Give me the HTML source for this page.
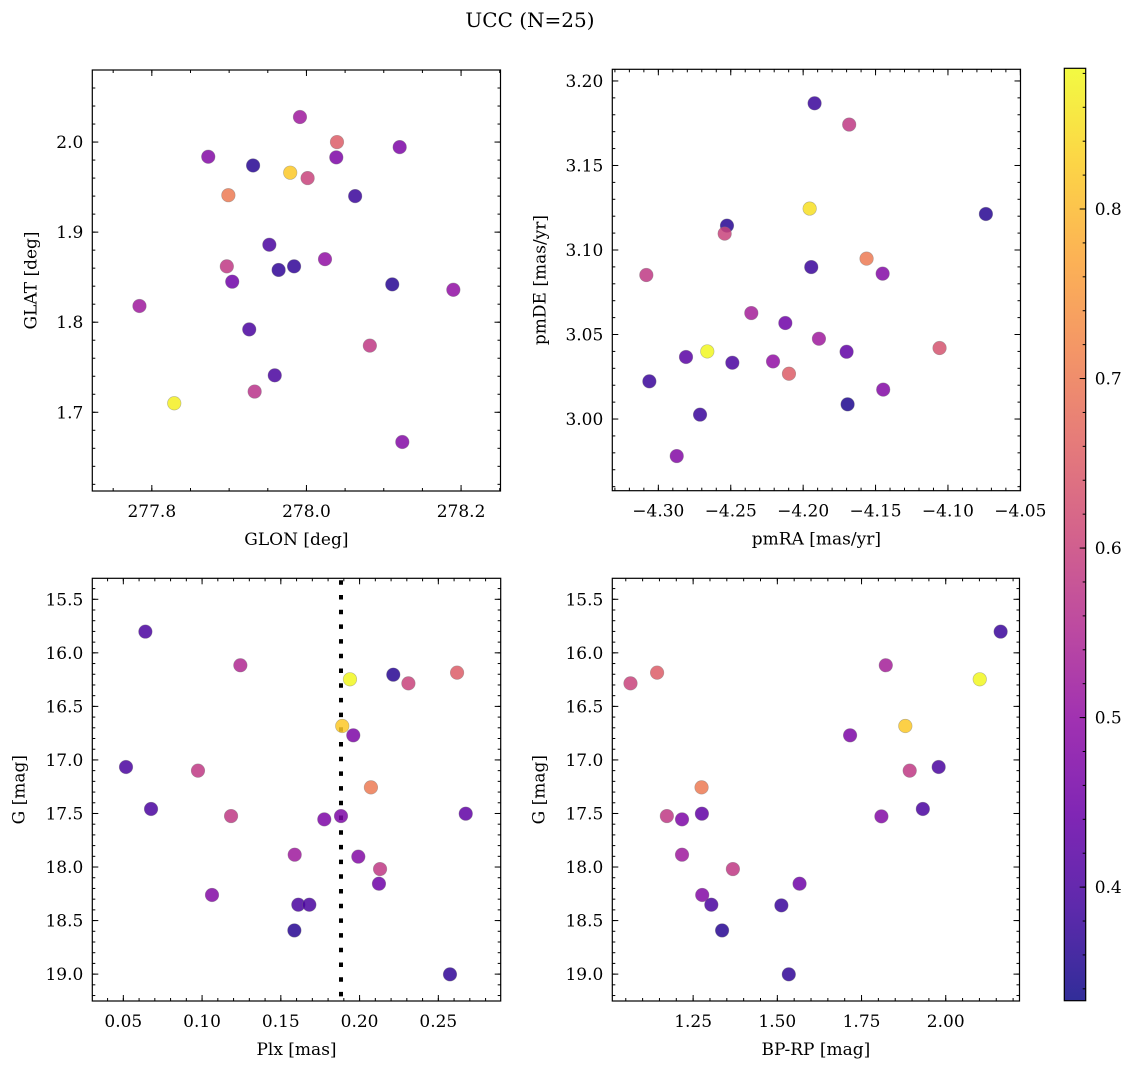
<!DOCTYPE html>
<html><head><meta charset="utf-8"><style>
html,body{margin:0;padding:0;background:#fff;}
svg{display:block;font-family:"DejaVu Serif","Liberation Serif",serif;}
</style></head><body>
<svg id="fig" width="1136" height="1068" viewBox="0 0 1136 1068">
<text x="530" y="27" text-anchor="middle" font-size="20">UCC (N=25)</text>
</svg>
<script>
// ---- data ----
const glon = [277.9916,278.0395,277.873,277.931,277.979,278.0386,278.0015,278.1206,277.899,278.063,277.952,277.897,277.964,277.984,277.904,278.024,278.111,278.190,277.784,277.926,278.082,277.959,277.933,277.829,278.124];
const glat = [2.0278,2.000,1.9837,1.974,1.966,1.983,1.960,1.9944,1.941,1.940,1.886,1.862,1.858,1.862,1.845,1.870,1.842,1.836,1.818,1.792,1.774,1.741,1.723,1.710,1.667];
const probP1 = [0.52,0.65,0.48,0.36,0.82,0.47,0.60,0.47,0.70,0.38,0.40,0.58,0.37,0.37,0.45,0.50,0.36,0.50,0.52,0.40,0.58,0.40,0.57,0.87,0.48];

const pmra = [-4.1921,-4.1682,-4.1955,-4.0738,-4.2526,-4.2542,-4.1562,-4.1944,-4.1451,-4.3083,-4.2358,-4.2123,-4.1891,-4.1058,-4.1700,-4.2662,-4.2809,-4.2489,-4.2208,-4.2098,-4.3062,-4.1447,-4.1693,-4.2712,-4.2873];
const pmde = [3.1868,3.1742,3.1245,3.1213,3.1144,3.1097,3.0949,3.0899,3.0860,3.0852,3.0627,3.0568,3.0475,3.0420,3.0398,3.0400,3.0367,3.0333,3.0341,3.0268,3.0223,3.0174,3.0087,3.0026,2.9781];
const probP2 = [0.38,0.58,0.85,0.36,0.36,0.60,0.70,0.38,0.48,0.58,0.53,0.45,0.52,0.63,0.43,0.88,0.42,0.40,0.50,0.65,0.38,0.48,0.35,0.38,0.48];

const plx = [0.0640,0.1243,0.1939,0.2214,0.2310,0.2619,0.1890,0.1960,0.0517,0.0974,0.2072,0.0676,0.1184,0.1776,0.1882,0.2674,0.1588,0.1992,0.2130,0.2123,0.1063,0.1611,0.1681,0.1586,0.2574];
const gmagP3 = [15.802,16.116,16.247,16.204,16.285,16.185,16.683,16.770,17.066,17.100,17.256,17.458,17.524,17.555,17.524,17.502,17.885,17.903,18.019,18.156,18.261,18.352,18.352,18.592,19.002];
const probP3 = [0.40,0.55,0.88,0.36,0.60,0.65,0.82,0.47,0.40,0.58,0.70,0.40,0.58,0.47,0.47,0.43,0.52,0.48,0.58,0.45,0.48,0.40,0.40,0.36,0.37];
const plxCut = [0.1882];

const bprp = [2.163,1.822,2.101,1.064,1.143,1.880,1.716,1.893,1.979,1.275,1.172,1.217,1.276,1.809,1.932,1.217,1.368,1.566,1.277,1.304,1.512,1.336,1.534];
const gmagP4 = [15.802,16.116,16.247,16.285,16.185,16.683,16.770,17.100,17.066,17.256,17.524,17.555,17.502,17.527,17.458,17.885,18.019,18.156,18.261,18.352,18.358,18.592,19.002];
const probP4 = [0.38,0.53,0.88,0.60,0.65,0.82,0.47,0.58,0.40,0.70,0.58,0.47,0.43,0.48,0.40,0.52,0.58,0.45,0.48,0.40,0.38,0.36,0.37];

const ticksP1x = ["277.8","278.0","278.2"];
const ticksP1y = ["1.7","1.8","1.9","2.0"];
const ticksP2x = ["-4.30","-4.25","-4.20","-4.15","-4.10","-4.05"];
const ticksP2y = ["3.00","3.05","3.10","3.15","3.20"];
const ticksP3x = ["0.05","0.10","0.15","0.20","0.25"];
const ticksGy = ["15.5","16.0","16.5","17.0","17.5","18.0","18.5","19.0"];
const ticksP4x = ["1.25","1.50","1.75","2.00"];
const ticksCbar = ["0.4","0.5","0.6","0.7","0.8"];
const cLim = [0.333, 0.883];

// ---- helpers ----
const NS="http://www.w3.org/2000/svg";
const svg=document.getElementById('fig');
const FS=17;
function mk(tag,attrs,parent){const e=document.createElementNS(NS,tag);for(const k in attrs)e.setAttribute(k,attrs[k]);(parent||svg).appendChild(e);return e;}
const plasma=[[13,8,135],[65,4,157],[106,0,168],[143,13,164],[177,42,144],[204,71,120],[225,100,98],[242,132,75],[252,166,54],[252,206,37],[240,249,33]];
function cmap(v){let t=(v-cLim[0])/(cLim[1]-cLim[0]);t=Math.max(0,Math.min(1,t));const f=t*10,i=Math.min(9,Math.floor(f)),r=f-i;const a=plasma[i],b=plasma[i+1];return `rgb(${a.map((x,k)=>Math.round(x+(b[k]-x)*r)).join(',')})`;}
function fmtMinus(s){return s.replace('-','\u2212');}

function panel(o){
  const g=mk('g',{});
  
  
  const L=o.box[0],T=o.box[1],R=o.box[2],B=o.box[3];
  const sx=v=>L+(v-o.xlim[0])/(o.xlim[1]-o.xlim[0])*(R-L);
  const sy=o.invertY? v=>T+(v-o.ylim[0])/(o.ylim[1]-o.ylim[0])*(B-T) : v=>B-(v-o.ylim[0])/(o.ylim[1]-o.ylim[0])*(B-T);
  const eps=1e-9;
  function ticks(lo,hi,step,fn){const s=Math.ceil(lo/step-eps);for(let k=s;k*step<=hi+eps;k++)fn(k*step);}
  const tg=mk('g',{stroke:'#000','stroke-width':1},g);
  
  
  ticks(o.xlim[0],o.xlim[1],o.xminor,v=>{const x=sx(v);mk('line',{x1:x,x2:x,y1:B,y2:B-3},tg);mk('line',{x1:x,x2:x,y1:T,y2:T+3},tg);});
  ticks(o.ylim[0],o.ylim[1],o.yminor,v=>{const y=sy(v);mk('line',{x1:L,x2:L+3,y1:y,y2:y},tg);mk('line',{x1:R,x2:R-3,y1:y,y2:y},tg);});
  o.xt.forEach(s=>{const x=sx(parseFloat(s));mk('line',{x1:x,x2:x,y1:B,y2:B-6},tg);mk('line',{x1:x,x2:x,y1:T,y2:T+6},tg);
    const t=mk('text',{x:x,y:B+26,'text-anchor':'middle','font-size':FS},g);t.textContent=fmtMinus(s);
    
    });
  o.yt.forEach(s=>{const y=sy(parseFloat(s));mk('line',{x1:L,x2:L+6,y1:y,y2:y},tg);mk('line',{x1:R,x2:R-6,y1:y,y2:y},tg);
    const t=mk('text',{x:L-9,y:y+6,'text-anchor':'end','font-size':FS},g);t.textContent=fmtMinus(s);
    
    });
  if(o.vline){o.vline.forEach(v=>{const x=sx(v);const l=mk('line',{x1:x,x2:x,y1:T+2,y2:B,stroke:'#000','stroke-width':4,'stroke-dasharray':'4.5 10.2'},g);
    
    });}
  const pg=mk('g',{},g);
  
  
  o.x.forEach((xv,i)=>{const c=mk('circle',{cx:sx(xv),cy:sy(o.y[i]),r:6.8,fill:cmap(o.c[i]),'fill-opacity':0.85,stroke:'#777','stroke-opacity':0.5,'stroke-width':0.6},pg);
    
    });
  const fr=mk('rect',{x:L,y:T,width:R-L,height:B-T,fill:'none',stroke:'#000','stroke-width':1.2},g);
  
  
  const xl=mk('text',{x:(L+R)/2,y:B+54,'text-anchor':'middle','font-size':FS},g);xl.textContent=o.xlabel;
  
  
  const yx=L-o.ylabOff, yy=(T+B)/2;
  const yl=mk('text',{x:yx,y:yy,'text-anchor':'middle','font-size':FS,transform:`rotate(-90 ${yx} ${yy})`},g);yl.textContent=o.ylabel;
  
  
}

panel({name:'glon-glat-panel',box:[92.3,70,500.5,491],xlim:[277.723,278.251],ylim:[1.6126,2.080],xminor:0.05,yminor:0.02,
  xt:ticksP1x,yt:ticksP1y,x:glon,y:glat,c:probP1,xlabel:'GLON [deg]',ylabel:'GLAT [deg]',ylabOff:56});
panel({name:'propermotion-panel',box:[612.3,69.3,1020.5,490.7],xlim:[-4.3318,-4.0499],ylim:[2.9576,3.2069],xminor:0.01,yminor:0.01,
  xt:ticksP2x,yt:ticksP2y,x:pmra,y:pmde,c:probP2,xlabel:'pmRA [mas/yr]',ylabel:'pmDE [mas/yr]',ylabOff:67});
panel({name:'plx-g-panel',box:[92.3,578.3,500.7,1001],xlim:[0.0303,0.2896],ylim:[15.304,19.251],invertY:true,xminor:0.01,yminor:0.1,
  xt:ticksP3x,yt:ticksGy,x:plx,y:gmagP3,c:probP3,vline:plxCut,xlabel:'Plx [mas]',ylabel:'G [mag]',ylabOff:68});
panel({name:'cmd-panel',box:[612.3,578.3,1019.5,1001],xlim:[1.010,2.219],ylim:[15.304,19.251],invertY:true,xminor:0.05,yminor:0.1,
  xt:ticksP4x,yt:ticksGy,x:bprp,y:gmagP4,c:probP4,xlabel:'BP-RP [mag]',ylabel:'G [mag]',ylabOff:68});

// ---- colorbar ----
(function(){
  const L=1064.3,R=1085.7,T=68.3,B=1000.7;
  const cg=mk('g',{});
  
  
  const defs=mk('defs',{},cg);
  const lg=mk('linearGradient',{id:'pl',x1:0,y1:1,x2:0,y2:0},defs);
  plasma.forEach((c,i)=>mk('stop',{offset:(i/10),'stop-color':`rgb(${c.join(',')})`,'stop-opacity':0.85},lg));
  const r=mk('rect',{x:L,y:T,width:R-L,height:B-T,fill:'url(#pl)',stroke:'#000','stroke-width':1.2},cg);
  
  
  const sy=v=>B-(v-cLim[0])/(cLim[1]-cLim[0])*(B-T);
  for(let k=Math.ceil(cLim[0]/0.02);k*0.02<=cLim[1];k++){const y=sy(k*0.02);mk('line',{x1:R,x2:R-3,y1:y,y2:y,stroke:'#000','stroke-width':1},cg);}
  ticksCbar.forEach(s=>{const y=sy(parseFloat(s));mk('line',{x1:R,x2:R-6,y1:y,y2:y,stroke:'#000','stroke-width':1},cg);
    const t=mk('text',{x:R+9,y:y+6,'font-size':FS},cg);t.textContent=s;
    
    });
})();
</script>
</body></html>
